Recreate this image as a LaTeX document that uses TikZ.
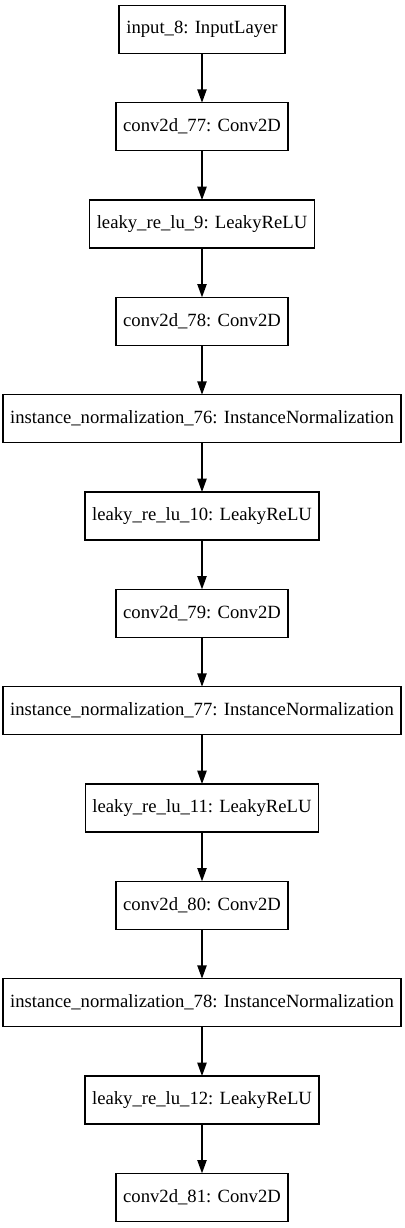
\documentclass[tikz,border=0pt]{standalone}
\usepackage{fontspec}
\setmainfont{Liberation Serif}
\usetikzlibrary{positioning,arrows.meta}

\tikzset{
  layer/.style={draw, line width=1pt, rectangle, minimum height=36pt,
    inner xsep=5.4pt, outer sep=0pt, font=\fontsize{14pt}{16pt}\selectfont},
  flow/.style={-{Triangle[length=10pt,width=7pt]}, line width=1pt}
}

\begin{document}
\begin{tikzpicture}[node distance=37pt]
            % Frame
            \useasboundingbox (0,0) rectangle (303pt,-921pt);

            % Layers
            \node[layer] (inp) at (151.5pt,-22pt) {input\_8: InputLayer};
            \node[layer, below=of inp] (c77) {conv2d\_77: Conv2D};
            \node[layer, below=of c77] (lr9) {leaky\_re\_lu\_9: LeakyReLU};
            \node[layer, below=of lr9] (c78) {conv2d\_78: Conv2D};
            \node[layer, below=of c78] (in76) {instance\_normalization\_76: InstanceNormalization};
            \node[layer, below=of in76] (lr10) {leaky\_re\_lu\_10: LeakyReLU};
            \node[layer, below=of lr10] (c79) {conv2d\_79: Conv2D};
            \node[layer, below=of c79] (in77) {instance\_normalization\_77: InstanceNormalization};
            \node[layer, below=of in77] (lr11) {leaky\_re\_lu\_11: LeakyReLU};
            \node[layer, below=of lr11] (c80) {conv2d\_80: Conv2D};
            \node[layer, below=of c80] (in78) {instance\_normalization\_78: InstanceNormalization};
            \node[layer, below=of in78] (lr12) {leaky\_re\_lu\_12: LeakyReLU};
            \node[layer, below=of lr12] (c81) {conv2d\_81: Conv2D};

            % Arrows
            \foreach \a/\b in {inp/c77, c77/lr9, lr9/c78, c78/in76, in76/lr10,
                lr10/c79, c79/in77, in77/lr11, lr11/c80, c80/in78, in78/lr12, lr12/c81}
                \draw[flow] (\a) -- (\b);
\end{tikzpicture}
\end{document}
